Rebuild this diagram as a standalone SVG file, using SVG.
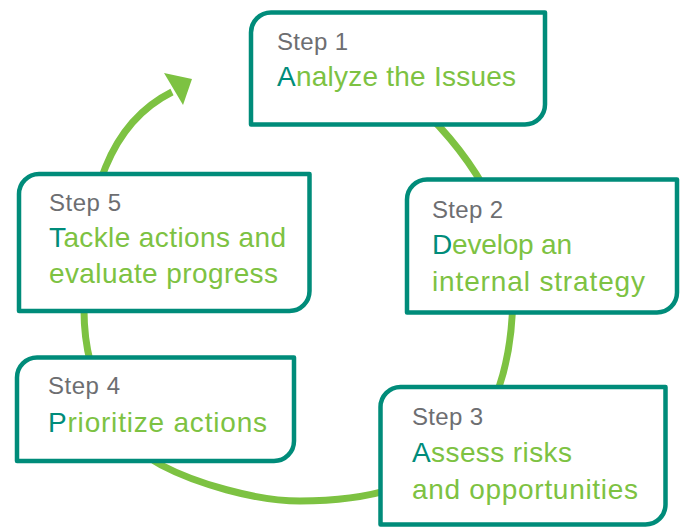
<svg xmlns="http://www.w3.org/2000/svg" width="680" height="527" viewBox="0 0 680 527">
<style>
.box{fill:#ffffff;stroke:#008C7A;stroke-width:4.5;stroke-linejoin:round}
.step{font-family:"Liberation Sans",Arial,sans-serif;font-size:24px;fill:#6D6E71}
.main{font-family:"Liberation Sans",Arial,sans-serif;font-size:28px;fill:#7DC242}
.init{fill:#008C7A}
.arc{fill:none;stroke:#7DC242;stroke-width:7}
</style>
<rect width="680" height="527" fill="#ffffff"/>
<g id="connectors">
<path class="arc" d="M404,92 C470,150 514,220 513,290 C513,440 440,501 300,501 C255,501 195,483 161,465 C127,447 84,390 84,310 C84,190 112,122 172,92"/>
<polygon points="192,79 164,73 183,105" fill="#7DC242"/>
</g>
<g id="step1">
<path class="box" d="M251,32.5 A20,20 0 0 1 271,12.5 H545 V104.5 A20,20 0 0 1 525,124.5 H251 Z"/>
<text class="step" x="277" y="50" textLength="71" lengthAdjust="spacing">Step 1</text>
<text class="main" x="277" y="86" textLength="239" lengthAdjust="spacing"><tspan class="init">A</tspan>nalyze the Issues</text>
</g>
<g id="step2">
<path class="box" d="M407,199.5 A20,20 0 0 1 427,179.5 H677 V292.5 A20,20 0 0 1 657,312.5 H407 Z"/>
<text class="step" x="432" y="218" textLength="71" lengthAdjust="spacing">Step 2</text>
<text class="main" x="432" y="254" textLength="140" lengthAdjust="spacing"><tspan class="init">D</tspan>evelop an</text>
<text class="main" x="432" y="291" textLength="213" lengthAdjust="spacing">internal strategy</text>
</g>
<g id="step3">
<path class="box" d="M380.5,407 A20,20 0 0 1 400.5,387 H665.5 V504.5 A20,20 0 0 1 645.5,524.5 H380.5 Z"/>
<text class="step" x="412" y="425" textLength="71" lengthAdjust="spacing">Step 3</text>
<text class="main" x="412" y="462" textLength="160" lengthAdjust="spacing"><tspan class="init">A</tspan>ssess risks</text>
<text class="main" x="412" y="499" textLength="226" lengthAdjust="spacing">and opportunities</text>
</g>
<g id="step4">
<path class="box" d="M17,377.5 A20,20 0 0 1 37,357.5 H294 V441 A20,20 0 0 1 274,461 H17 Z"/>
<text class="step" x="48" y="394" textLength="72" lengthAdjust="spacing">Step 4</text>
<text class="main" x="48" y="432" textLength="219" lengthAdjust="spacing"><tspan class="init">P</tspan>rioritize actions</text>
</g>
<g id="step5">
<path class="box" d="M19,194 A20,20 0 0 1 39,174 H309.5 V291 A20,20 0 0 1 289.5,311 H19 Z"/>
<text class="step" x="49" y="211" textLength="72" lengthAdjust="spacing">Step 5</text>
<text class="main" x="49" y="247" textLength="237" lengthAdjust="spacing"><tspan class="init">T</tspan>ackle actions and</text>
<text class="main" x="49" y="283" textLength="229" lengthAdjust="spacing">evaluate progress</text>
</g>
</svg>
